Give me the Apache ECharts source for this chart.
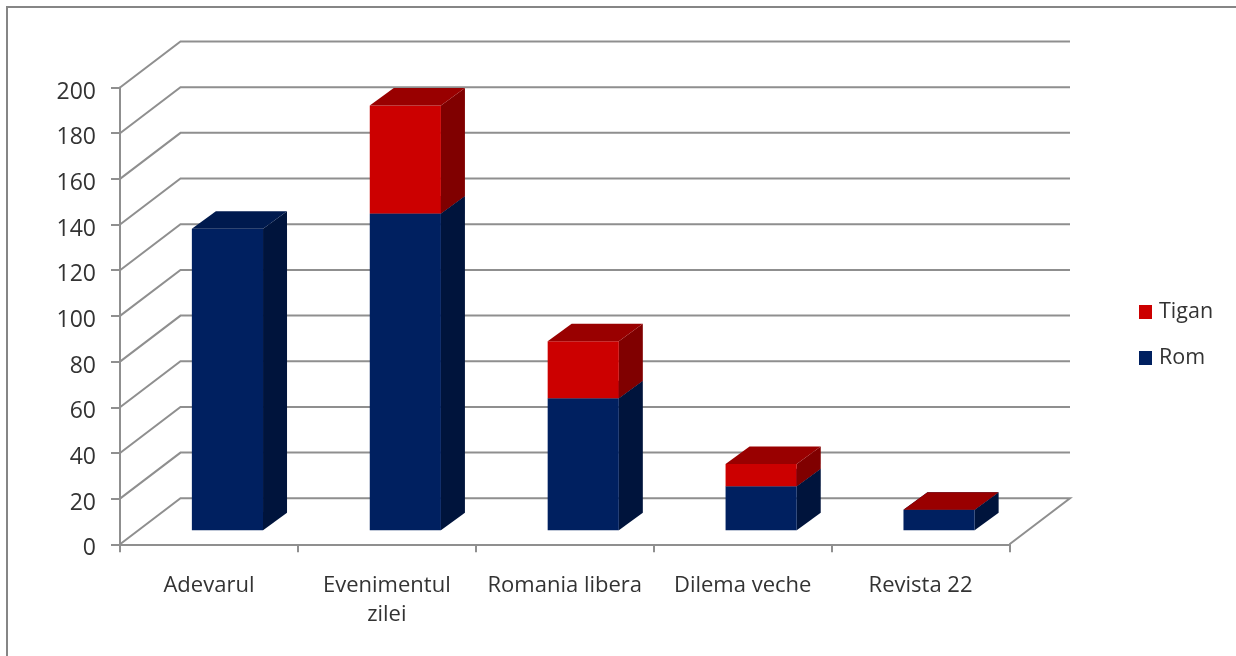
<!DOCTYPE html>
<html>
<head>
<meta charset="utf-8">
<style>html,body{margin:0;padding:0;background:#fff;overflow:hidden}#c{width:1236px;height:656px}</style>
<script src="https://cdn.jsdelivr.net/npm/echarts@6/dist/echarts.min.js"></script>
</head>
<body>
<div id="c"></div>
<script>
const categories = ['Adevarul', 'Evenimentul\nzilei', 'Romania libera', 'Dilema veche', 'Revista 22'];
const rom = [132, 138.7, 57.8, 19.3, 9];
const tigan = [null, 47.3, 25, 9.7, 0];
const gridValues = [0, 20, 40, 60, 80, 100, 120, 140, 160, 180, 200];

const WALL = { dx: 60.5, dy: -46 };
const BAR = { dx: 18.5, dy: -14, depthX: 24, depthY: -17.5, widthRatio: 0.4 };
const GRID_COLOR = '#8f8f8f';
const TEXT_COLOR = '#333333';
const FONT = '"Open Sans", sans-serif';

function wallItem(params, api) {
  const v = api.value(1);
  const cs = params.coordSys;
  const y = api.coord([0, v])[1];
  const left = cs.x, right = cs.x + cs.width;
  const pts = [[left, y], [left + WALL.dx, y + WALL.dy], [right + WALL.dx, y + WALL.dy]];
  if (v === 0) pts.push([right, y]);
  return {
    type: 'polyline',
    shape: { points: pts },
    style: { stroke: GRID_COLOR, lineWidth: 2, fill: null }
  };
}

function barRenderer(front, top, side) {
  return function (params, api) {
    const i = api.value(0);
    const c0 = api.coord([i, api.value(1)]);
    const c1 = api.coord([i, api.value(2)]);
    const w = api.size([1, 0])[0] * BAR.widthRatio;
    const x0 = c0[0] + BAR.dx - w / 2, x1 = x0 + w;
    const yb = c0[1] + BAR.dy, yt = c1[1] + BAR.dy;
    const dx = BAR.depthX, dy = BAR.depthY;
    return {
      type: 'group',
      children: [
        { type: 'polygon', shape: { points: [[x1, yb], [x1 + dx, yb + dy], [x1 + dx, yt + dy], [x1, yt]] }, style: { fill: side } },
        { type: 'rect', shape: { x: x0, y: yt, width: w, height: yb - yt }, style: { fill: front } },
        { type: 'polygon', shape: { points: [[x0, yt], [x0 + dx, yt + dy], [x1 + dx, yt + dy], [x1, yt]] }, style: { fill: top } }
      ]
    };
  };
}

const romData = rom.map((v, i) => [i, 0, v]);
const tiganData = tigan
  .map((v, i) => (v === null ? null : [i, rom[i], rom[i] + v]))
  .filter(d => d !== null);

const chart = echarts.init(document.getElementById('c'), null, { renderer: 'canvas' });
chart.setOption({
  animation: false,
  backgroundColor: '#ffffff',
  graphic: [{
    type: 'rect', z: 0, silent: true,
    shape: { x: 7, y: 7, width: 1400, height: 800 },
    style: { fill: null, stroke: '#868686', lineWidth: 2 }
  }],
  legend: {
    orient: 'vertical', left: 1139, top: 301, padding: 0,
    itemWidth: 13, itemHeight: 14, itemGap: 24,
    icon: 'rect',
    data: ['Tigan', 'Rom'],
    selectedMode: false,
    textStyle: { fontFamily: FONT, fontSize: 21.5, color: TEXT_COLOR, padding: [0, 0, 0, 2] }
  },
  grid: { left: 120, right: 226.5, top: 87.5, bottom: 111.7 },
  xAxis: {
    type: 'category', data: categories, boundaryGap: true,
    axisLine: { lineStyle: { color: GRID_COLOR, width: 2 } },
    axisTick: { show: true, length: 8, alignWithLabel: false, lineStyle: { color: GRID_COLOR, width: 2 } },
    axisLabel: { interval: 0, margin: 27, fontFamily: FONT, fontSize: 22, color: TEXT_COLOR, lineHeight: 29 }
  },
  yAxis: {
    type: 'value', min: 0, max: 200, interval: 20,
    axisLine: { show: true, lineStyle: { color: GRID_COLOR, width: 2 } },
    axisTick: { show: true, length: 9, lineStyle: { color: GRID_COLOR, width: 2 } },
    axisLabel: { margin: 24, fontFamily: FONT, fontSize: 23, color: TEXT_COLOR, verticalAlign: 'top', lineHeight: 9 },
    splitLine: { show: false }
  },
  series: [
    { type: 'custom', name: 'walls', z: 1, silent: true, renderItem: wallItem,
      data: gridValues.map(v => [0, v]), encode: { x: 0, y: 1 } },
    { type: 'custom', name: 'Rom', z: 3, renderItem: barRenderer('#002060', '#001a4e', '#00143c'),
      itemStyle: { color: '#002060' }, data: romData, encode: { x: 0, y: [1, 2] } },
    { type: 'custom', name: 'Tigan', z: 4, renderItem: barRenderer('#cc0000', '#990000', '#800000'),
      itemStyle: { color: '#cc0000' }, data: tiganData, encode: { x: 0, y: [1, 2] } }
  ]
});
</script>
</body>
</html>
